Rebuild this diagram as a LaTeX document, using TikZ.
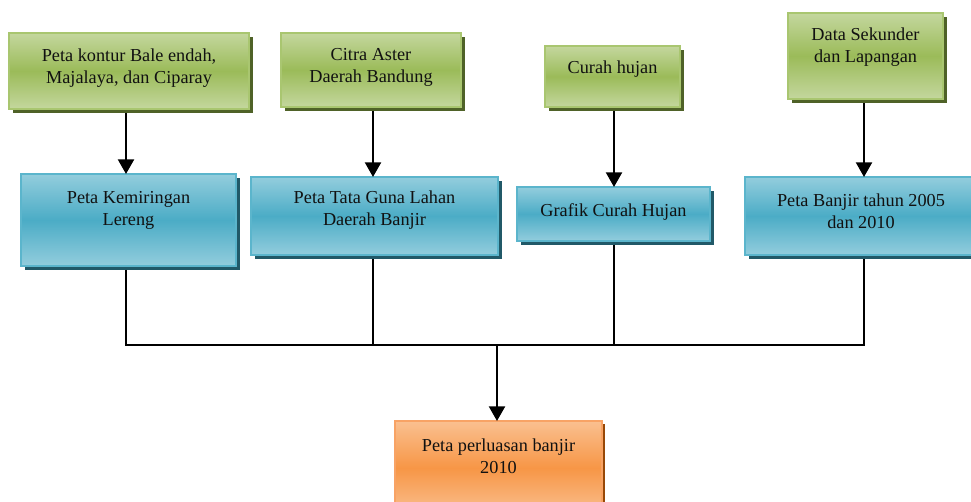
\documentclass[tikz,border=0pt]{standalone}
\usepackage{fontspec}
\setmainfont{Liberation Serif}
\usetikzlibrary{arrows.meta,shadows}
\definecolor{gmid}{HTML}{9BBB59}
\definecolor{glight}{HTML}{C4D79E}
\definecolor{gedge}{HTML}{A9C670}
\definecolor{gshadow}{HTML}{4F6228}
\definecolor{bmid}{HTML}{4BACC6}
\definecolor{blight}{HTML}{93CDDD}
\definecolor{bedge}{HTML}{5BB5CC}
\definecolor{bshadow}{HTML}{215968}
\definecolor{omid}{HTML}{F79646}
\definecolor{olight}{HTML}{FAC090}
\definecolor{oedge}{HTML}{F8A365}
\definecolor{oshadow}{HTML}{984807}
\definecolor{txt}{HTML}{111111}
\tikzset{
  sz/.style 2 args={minimum width=#1*0.75pt, minimum height=#2*0.75pt, inner sep=0pt, outer sep=0pt},
  gbox/.style={draw=gedge, line width=1.2pt, top color=glight, bottom color=glight, middle color=gmid,
    drop shadow={shadow xshift=3pt, shadow yshift=-3pt, fill=gshadow, opacity=1}},
  bbox/.style={draw=bedge, line width=1.2pt, top color=blight, bottom color=blight, middle color=bmid,
    drop shadow={shadow xshift=3pt, shadow yshift=-3pt, fill=bshadow, opacity=1}},
  obox/.style={draw=oedge, line width=1.2pt, top color=olight, bottom color=olight, middle color=omid,
    drop shadow={shadow xshift=2pt, shadow yshift=-2pt, fill=oshadow, opacity=1}},
  lbl/.style={align=center, text=txt, inner sep=0pt, font=\fontsize{13.7pt}{16.5pt}\selectfont},
  arr/.style={line width=1.7pt, -{Triangle[width=12pt,length=11pt]}},
  conn/.style={line width=1.3pt},
}
\begin{document}
\begin{tikzpicture}[x=0.75pt,y=-0.75pt]
\useasboundingbox (0,0) rectangle (971,502);
% green source boxes
\node[gbox, sz={240}{76}] (g1) at (129,71) {};
\node[lbl] (g1t) at (129,68) {Peta kontur Bale endah,\\Majalaya, dan Ciparay};
\node[gbox, sz={180}{74}] (g2) at (371,70) {};
\node[lbl] (g2t) at (371,67.5) {Citra Aster\\Daerah Bandung};
\node[gbox, sz={135}{61}] (g3) at (612.5,76.5) {};
\node[lbl] (g3t) at (612.5,69) {Curah hujan};
\node[gbox, sz={155}{86}] (g4) at (865.5,56) {};
\node[lbl] (g4t) at (865.5,47.5) {Data Sekunder\\dan Lapangan};
% blue boxes
\node[bbox, sz={215}{92}] (b1) at (128.5,220) {};
\node[lbl] (b1t) at (128.5,210) {Peta Kemiringan\\Lereng};
\node[bbox, sz={247}{78}] (b2) at (374.5,216) {};
\node[lbl] (b2t) at (374.5,210.5) {Peta Tata Guna Lahan\\Daerah Banjir};
\node[bbox, sz={193}{54}] (b3) at (613.5,214) {};
\node[lbl] (b3t) at (613.5,212) {Grafik Curah Hujan};
\node[bbox, sz={235}{78}] (b4) at (862.5,216) {};
\node[lbl] (b4t) at (861,211) {Peta Banjir tahun 2005\\dan 2010};
% orange result box
\node[obox, sz={207}{94}] (o) at (498.5,468) {};
\node[lbl] (ot) at (498.5,456.5) {Peta perluasan banjir\\2010};
% junction coordinates on the bus line
\coordinate (j1) at (126,345);
\coordinate (j2) at (373,345);
\coordinate (j3) at (614,345);
\coordinate (j4) at (864,345);
\coordinate (jm) at (497,345);
% arrows from sources
\draw[arr] (g1.south -| j1) ++(0,4) -- (b1.north -| j1);
\draw[arr] (g2.south -| j2) ++(0,4) -- (b2.north -| j2);
\draw[arr] (g3.south -| j3) ++(0,4) -- (b3.north -| j3);
\draw[arr] (g4.south -| j4) ++(0,4) -- (b4.north -| j4);
% connectors to bus
\draw[conn] (b1.south -| j1) ++(0,4) -- (j1);
\draw[conn] (b2.south -| j2) ++(0,4) -- (j2);
\draw[conn] (b3.south -| j3) ++(0,4) -- (j3);
\draw[conn] (b4.south -| j4) ++(0,4) -- (j4);
\draw[conn] ([xshift=-0.65pt]j1) -- ([xshift=0.65pt]j4);
\draw[arr] (jm) -- (o.north -| jm);
\end{tikzpicture}
\end{document}
